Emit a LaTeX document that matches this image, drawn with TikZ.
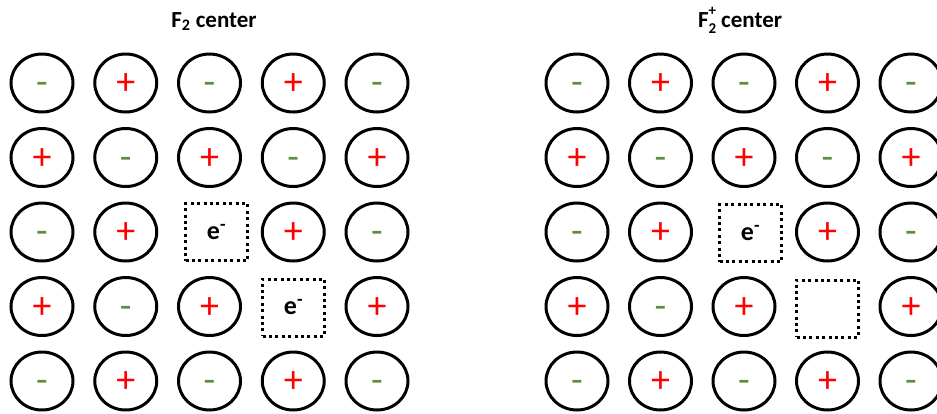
\documentclass[tikz,border=0pt]{standalone}
\usepackage{fontspec}
\setmainfont{Carlito}
\usetikzlibrary{shapes.geometric}
\definecolor{ionred}{RGB}{255,0,0}
\definecolor{iongreen}{RGB}{96,140,64}

\begin{document}
\begin{tikzpicture}[x=1pt, y=-1pt,
		ion/.style={
			draw,
			ellipse,
			line width=3pt,
			minimum width=62pt,
			minimum height=58pt,
			inner sep=0pt,
			text height=23pt,
			text depth=0pt,
			font=\fontsize{38}{38}\selectfont
		},
		cation/.style={text=ionred},
		anion/.style={text=iongreen},
		vacancy/.style={
			draw,
			line width=3pt,
			dash pattern=on 3pt off 3.4pt,
			minimum width=62pt,
			minimum height=57pt,
			inner sep=0pt,
			font=\bfseries\fontsize{26}{26}\selectfont
		},
		title/.style={anchor=base, font=\bfseries\fontsize{23}{23}\selectfont}
		]
		
		\useasboundingbox (0,0) rectangle (937,413);
		\clip (0,0) rectangle (937,413);
		
		% Titles
		\node[title] (L-title) at (214,27) {F\textsubscript{2} center};
		\node[title] (R-title) at (740,27) {F\rlap{\raisebox{-0.3em}{\fontsize{15}{15}\selectfont 2}}\raisebox{0.5em}{\fontsize{15}{15}\selectfont +} center};
		
		% Lattice ions
		\foreach \col in {0,...,4} {
			\foreach \row in {0,...,4} {
				\pgfmathtruncatemacro{\odd}{mod(\col+\row,2)}
				\pgfmathtruncatemacro{\hole}{(\col==\row)&&(\col>1)&&(\col<4)}
				\ifnum\hole=0
				\ifnum\odd=1
				\node[ion, cation] (L-\col\row) at (42+83.75*\col, 83+74.5*\row) {+};
				\node[ion, cation] (R-\col\row) at (577+83.5*\col, 83+74.5*\row) {+};
				\else
				\node[ion, anion] (L-\col\row) at (42+83.75*\col, 83+74.5*\row) {-};
				\node[ion, anion] (R-\col\row) at (577+83.5*\col, 83+74.5*\row) {-};
				\fi
				\fi
			}
		}
		
		% Vacancies
		\node[vacancy] (L-v1) at (216.5,232) {e\textsuperscript{-}};
		\node[vacancy] (L-v2) at (293.5,307.5) {e\textsuperscript{-}};
		\node[vacancy] (R-v1) at (750.5,233) {e\textsuperscript{-}};
		\node[vacancy] (R-v2) at (827.5,308.5) {};
		
	\end{tikzpicture}
\end{document}
